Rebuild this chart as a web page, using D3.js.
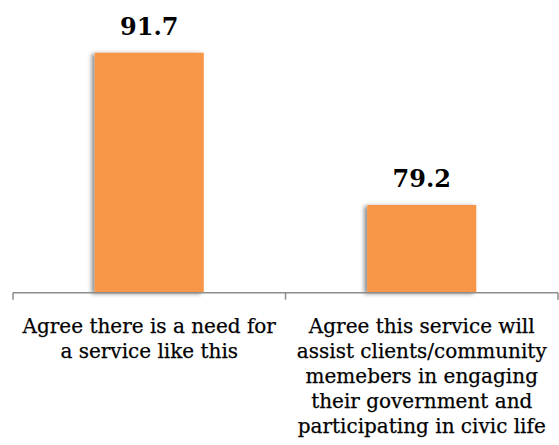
<!DOCTYPE html>
<html>
<head>
<meta charset="utf-8">
<script src="https://cdn.jsdelivr.net/npm/d3@7"></script>
<style>
  body { margin: 0; background: #fff; }
  .value { font-family: "DejaVu Serif", serif; font-weight: bold; font-size: 24px; fill: #000; }
  .cat { font-family: "DejaVu Serif", serif; font-size: 20px; fill: #000; stroke: #000; stroke-width: 0.25px; }
</style>
</head>
<body>
<script>
// values
const categories = [
  ["Agree there is a need for", "a service like this"],
  ["Agree this service will", "assist clients/community", "memebers in engaging", "their government and", "participating in civic life"]
]
const values = [91.7, 79.2]
const valueLabels = ["91.7", "79.2"]

const width = 559
const height = 445

const svg = d3.select("body").append("svg")
  .attr("width", width)
  .attr("height", height)

// soft shadow on the bars
const defs = svg.append("defs")
const f = defs.append("filter").attr("id", "shadow")
  .attr("x", "-20%").attr("y", "-20%").attr("width", "140%").attr("height", "140%")
f.append("feDropShadow")
  .attr("dx", -3).attr("dy", 1).attr("stdDeviation", 2)
  .attr("flood-color", "#000").attr("flood-opacity", 0.45)

const x = d3.scaleBand()
  .domain(d3.range(values.length))
  .range([13, 558])
  .paddingInner(0.6)
  .paddingOuter(0.3)

const y = d3.scaleLinear()
  .domain([72, 94])
  .range([292.7, 24.7])

svg.append("g")
  .selectAll("rect")
  .data(values)
  .enter().append("rect")
    .attr("x", (d, i) => x(i))
    .attr("y", d => y(d))
    .attr("width", x.bandwidth())
    .attr("height", d => y(72) - y(d))
    .attr("fill", "#F79646")
    .attr("filter", "url(#shadow)")

svg.append("g")
  .selectAll("text")
  .data(values)
  .enter().append("text")
    .attr("class", "value")
    .attr("x", (d, i) => x(i) + x.bandwidth() / 2)
    .attr("y", d => y(d) - 18)
    .attr("text-anchor", "middle")
    .text((d, i) => valueLabels[i])

// category axis: baseline plus ticks at band edges
const edges = [13, 285.5, 558]
const axis = svg.append("g").attr("stroke", "#8c8c8c").attr("stroke-width", 1.5)
axis.append("line")
  .attr("x1", 13).attr("x2", 558)
  .attr("y1", y(72)).attr("y2", y(72))
axis.selectAll("line.tick")
  .data(edges)
  .enter().append("line")
    .attr("class", "tick")
    .attr("x1", d => d).attr("x2", d => d)
    .attr("y1", y(72)).attr("y2", y(72) + 7)

const labels = svg.append("g")
  .selectAll("text")
  .data(categories)
  .enter().append("text")
    .attr("class", "cat")
    .attr("text-anchor", "middle")
    .attr("x", (d, i) => x(i) + x.bandwidth() / 2)
    .attr("y", 333)

labels.selectAll("tspan")
  .data(d => d)
  .enter().append("tspan")
    .attr("x", function() { return d3.select(this.parentNode).attr("x") })
    .attr("dy", (d, i) => i === 0 ? 0 : 25)
    .text(d => d)
</script>
</body>
</html>
